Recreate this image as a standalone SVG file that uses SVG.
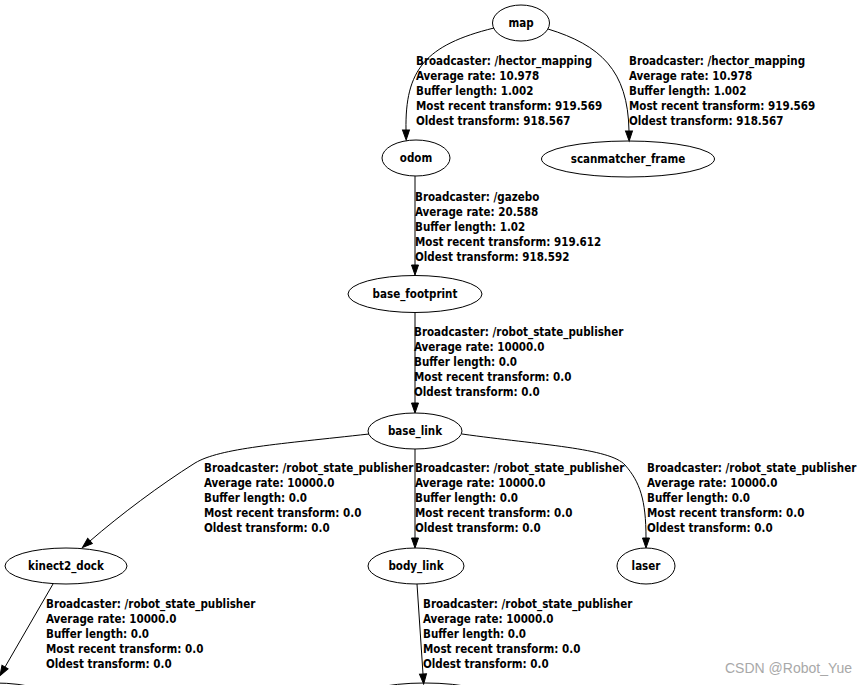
<svg xmlns="http://www.w3.org/2000/svg" width="865" height="685" viewBox="0 0 865 685">
<defs>
<style>
.bg{fill:#ffffff}
.node ellipse{fill:none;stroke:#000;stroke-width:1}
text{font-family:"DejaVu Sans Condensed","DejaVu Sans",sans-serif;font-stretch:condensed;font-weight:bold;font-size:11.5px;fill:#000}
.nl{text-anchor:middle}
.edge path{fill:none;stroke:#000;stroke-width:1;marker-end:url(#arr)}
.wm{font-family:"Liberation Sans",Arial,sans-serif;font-weight:normal;font-stretch:normal;font-size:14px;fill:#a8a8a8}
</style>
<marker id="arr" markerUnits="userSpaceOnUse" markerWidth="12" markerHeight="10" refX="0" refY="3.5" orient="auto" overflow="visible">
<path d="M0,0 L10,3.5 L0,7 z" fill="#000" stroke="#000" stroke-width="1"/>
</marker>
</defs>
<rect class="bg" x="0" y="0" width="865" height="685"/>
<g id="edges">
<g class="edge" id="e_map_odom"><path d="M494,28 C425,45 405,70 406,130"/>
<text x="416" y="65">Broadcaster: /hector_mapping</text><text x="416" y="80">Average rate: 10.978</text><text x="416" y="95">Buffer length: 1.002</text><text x="416" y="110">Most recent transform: 919.569</text><text x="416" y="125">Oldest transform: 918.567</text></g>
<g class="edge" id="e_map_scan"><path d="M548,29 C600,45 628,70 629,131"/>
<text x="629" y="65">Broadcaster: /hector_mapping</text><text x="629" y="80">Average rate: 10.978</text><text x="629" y="95">Buffer length: 1.002</text><text x="629" y="110">Most recent transform: 919.569</text><text x="629" y="125">Oldest transform: 918.567</text></g>
<g class="edge" id="e_odom_fp"><path d="M415,176 L415,265"/>
<text x="415" y="201">Broadcaster: /gazebo</text><text x="415" y="216">Average rate: 20.588</text><text x="415" y="231">Buffer length: 1.02</text><text x="415" y="246">Most recent transform: 919.612</text><text x="415" y="261">Oldest transform: 918.592</text></g>
<g class="edge" id="e_fp_base"><path d="M415,313 L415,403"/>
<text x="414" y="336">Broadcaster: /robot_state_publisher</text><text x="414" y="351">Average rate: 10000.0</text><text x="414" y="366">Buffer length: 0.0</text><text x="414" y="381">Most recent transform: 0.0</text><text x="414" y="396">Oldest transform: 0.0</text></g>
<g class="edge" id="e_base_kinect"><path d="M369,434 C280,444 220,448 195,463 C160,485 120,515 90,541"/>
<text x="204" y="472">Broadcaster: /robot_state_publisher</text><text x="204" y="487">Average rate: 10000.0</text><text x="204" y="502">Buffer length: 0.0</text><text x="204" y="517">Most recent transform: 0.0</text><text x="204" y="532">Oldest transform: 0.0</text></g>
<g class="edge" id="e_base_body"><path d="M415,449 L415,538"/>
<text x="415" y="472">Broadcaster: /robot_state_publisher</text><text x="415" y="487">Average rate: 10000.0</text><text x="415" y="502">Buffer length: 0.0</text><text x="415" y="517">Most recent transform: 0.0</text><text x="415" y="532">Oldest transform: 0.0</text></g>
<g class="edge" id="e_base_laser"><path d="M462,434 C540,445 610,448 625,465 C640,482 646,500 646,538"/>
<text x="647" y="472">Broadcaster: /robot_state_publisher</text><text x="647" y="487">Average rate: 10000.0</text><text x="647" y="502">Buffer length: 0.0</text><text x="647" y="517">Most recent transform: 0.0</text><text x="647" y="532">Oldest transform: 0.0</text></g>
<g class="edge" id="e_kinect_child"><path d="M53,584 L5,667"/>
<text x="46" y="608">Broadcaster: /robot_state_publisher</text><text x="46" y="623">Average rate: 10000.0</text><text x="46" y="638">Buffer length: 0.0</text><text x="46" y="653">Most recent transform: 0.0</text><text x="46" y="668">Oldest transform: 0.0</text></g>
<g class="edge" id="e_body_child"><path d="M417,584 L423,674"/>
<text x="423" y="608">Broadcaster: /robot_state_publisher</text><text x="423" y="623">Average rate: 10000.0</text><text x="423" y="638">Buffer length: 0.0</text><text x="423" y="653">Most recent transform: 0.0</text><text x="423" y="668">Oldest transform: 0.0</text></g>
</g>
<g class="node" id="map"><ellipse cx="521" cy="23" rx="28.5" ry="18"/><text class="nl" x="521" y="27">map</text></g>
<g class="node" id="odom"><ellipse cx="416" cy="158" rx="34" ry="18"/><text class="nl" x="416" y="162">odom</text></g>
<g class="node" id="scanmatcher_frame"><ellipse cx="628" cy="159" rx="86.5" ry="18"/><text class="nl" x="628" y="163">scanmatcher_frame</text></g>
<g class="node" id="base_footprint"><ellipse cx="415" cy="294" rx="67" ry="18.5"/><text class="nl" x="415" y="298">base_footprint</text></g>
<g class="node" id="base_link"><ellipse cx="415" cy="431" rx="47" ry="18"/><text class="nl" x="415" y="435">base_link</text></g>
<g class="node" id="kinect2_dock"><ellipse cx="66" cy="566" rx="61" ry="18"/><text class="nl" x="66" y="570">kinect2_dock</text></g>
<g class="node" id="body_link"><ellipse cx="416" cy="566" rx="48" ry="18"/><text class="nl" x="416" y="570">body_link</text></g>
<g class="node" id="laser"><ellipse cx="646" cy="566" rx="29" ry="18"/><text class="nl" x="646" y="570">laser</text></g>
<g class="node" id="kinect_child"><ellipse cx="-5" cy="701" rx="60" ry="18"/></g>
<g class="node" id="body_child"><ellipse cx="425" cy="701" rx="72" ry="18"/></g>
<text class="wm" x="725" y="673">CSDN @Robot_Yue</text>
</svg>
